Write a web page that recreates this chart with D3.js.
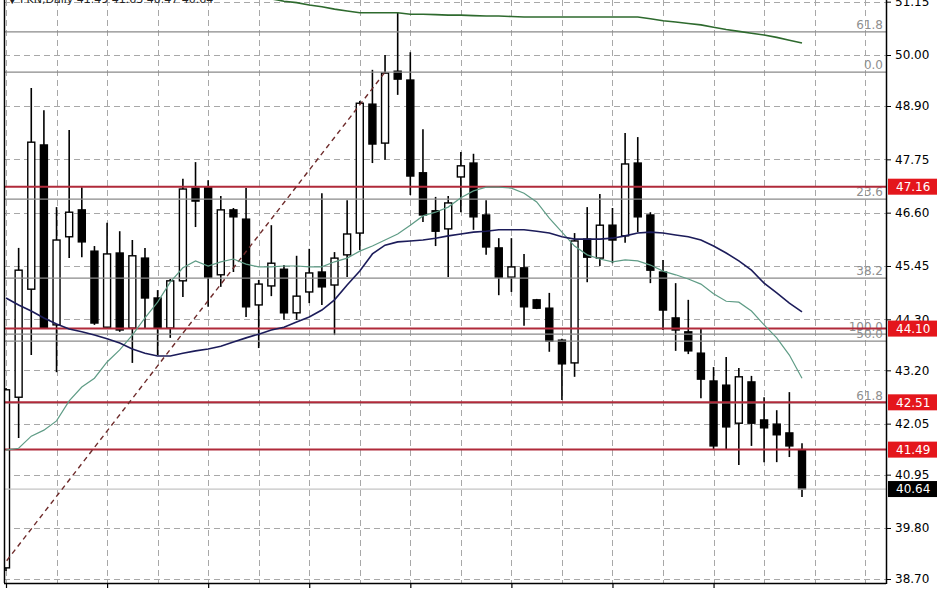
<!DOCTYPE html>
<html><head><meta charset="utf-8">
<script src="https://cdnjs.cloudflare.com/ajax/libs/d3/7.8.5/d3.min.js"></script>
<style>body{margin:0;background:#fff}svg{display:block}</style>
</head><body>
<script>
// ---- data (daily candles) ----
const opens  = [38.94,42.62,44.95,48.06,44.18,46.08,46.66,45.77,44.13,45.73,44.11,45.62,44.76,44.11,45.13,47.13,47.15,45.26,46.66,46.46,44.61,45.02,45.38,44.44,44.89,45.32,45.04,45.69,46.16,48.94,48.10,49.65,49.46,47.46,46.64,46.25,47.37,47.67,46.55,45.84,45.21,45.41,44.72,44.54,43.85,43.36,46.03,45.62,46.33,46.10,47.67,46.55,45.32,44.33,44.03,43.57,42.97,42.88,42.06,42.95,42.13,42.04,41.85,41.49];
const highs  = [42.82,45.84,49.29,48.81,46.72,48.38,47.15,45.88,46.38,46.20,46.01,45.84,44.93,45.17,47.33,47.69,47.30,46.96,46.70,47.13,45.15,46.33,45.47,45.67,45.82,47.02,45.75,46.87,49.01,49.68,50.00,50.91,50.06,48.40,46.94,46.96,47.91,47.87,46.87,46.05,46.05,45.71,44.74,44.87,43.88,46.16,46.72,47.00,46.70,48.32,48.23,46.61,45.58,45.08,44.72,44.09,43.27,43.49,43.25,43.08,42.62,42.34,42.73,41.63];
const lows   = [38.87,41.74,43.53,44.09,43.16,45.62,45.64,44.18,44.11,44.03,43.36,44.11,43.53,43.90,44.78,46.29,44.57,45.00,45.32,44.35,43.68,44.80,44.29,44.29,44.65,44.61,43.96,45.21,45.79,47.67,47.74,49.14,46.98,46.40,45.88,45.21,46.61,46.23,45.69,44.82,44.89,44.16,44.52,43.60,42.56,43.06,45.10,45.45,45.51,45.95,46.18,45.08,44.07,43.62,43.55,42.60,41.48,41.48,41.16,41.57,41.22,41.22,41.33,40.47];
const closes = [42.78,45.36,48.12,44.11,46.01,46.61,45.97,44.22,45.71,44.07,45.67,44.76,44.11,45.13,47.11,46.85,45.21,46.66,46.51,44.57,45.06,45.51,44.44,44.80,45.30,45.00,45.62,46.14,48.96,48.08,49.61,49.48,47.39,46.55,46.20,46.81,47.61,46.51,45.86,45.21,45.43,44.57,44.54,43.83,43.34,45.99,45.64,46.33,46.01,47.65,46.51,45.36,44.50,44.07,43.62,43.01,41.57,41.98,43.06,42.06,41.96,41.81,41.57,40.64];

// moving averages (per bar)
const maFast = [41.48,41.52,41.78,41.91,42.11,42.54,42.84,43.03,43.38,43.64,43.96,44.33,44.67,45.10,45.41,45.56,45.45,45.54,45.60,45.49,45.43,45.43,45.45,45.45,45.43,45.43,45.54,45.62,45.77,45.88,46.01,46.14,46.33,46.53,46.61,46.72,46.92,47.07,47.15,47.15,47.13,47.02,46.83,46.48,46.18,45.88,45.69,45.60,45.54,45.58,45.56,45.47,45.34,45.26,45.17,45.06,44.85,44.69,44.67,44.48,44.18,43.90,43.53,43.03];
const maMid  = [44.76,44.61,44.48,44.33,44.20,44.09,44.03,43.96,43.88,43.79,43.66,43.57,43.51,43.51,43.57,43.62,43.66,43.72,43.81,43.90,43.98,44.07,44.13,44.24,44.35,44.50,44.72,45.04,45.34,45.71,45.90,45.97,45.99,46.01,46.05,46.10,46.14,46.18,46.20,46.23,46.23,46.23,46.20,46.16,46.08,46.03,46.03,46.03,46.05,46.10,46.16,46.18,46.16,46.12,46.08,46.01,45.88,45.73,45.56,45.36,45.08,44.87,44.65,44.46];
const maSlow = [null,null,null,null,null,null,null,null,null,null,null,null,null,null,null,null,null,null,null,null,null,51.21,51.16,51.13,51.08,51.04,50.99,50.95,50.91,50.91,50.91,50.91,50.88,50.88,50.87,50.86,50.86,50.85,50.84,50.84,50.83,50.82,50.82,50.82,50.82,50.82,50.82,50.82,50.82,50.82,50.82,50.78,50.74,50.71,50.68,50.65,50.60,50.55,50.51,50.47,50.43,50.38,50.32,50.26];

// price axis
const yTickValues = [51.15,50.00,48.90,47.75,46.60,45.45,44.30,43.20,42.05,40.95,39.80,38.70];
const yTickLabels = ["51.15","50.00","48.90","47.75","46.60","45.45","44.30","43.20","42.05","40.95","39.80","38.70"];

// horizontal objects
const redLevels = [47.16,44.10,42.51,41.49];
const redLabels = ["47.16","44.10","42.51","41.49"];
const fibValues = [50.50,49.63,46.89,45.19,43.98,43.83,42.50];
const fibLabels = ["61.8","0.0","23.6","38.2","100.0","50.0","61.8"];
const lastPrice = 40.64;
const trendBars = [-3,30];
const trendPrices = [38.02,49.63];
const header = "▼ PKN,Daily  41.49 41.63 40.47 40.64";

// ---- drawing ----
const W=948,H=593, L=4, R=886, T=0, B=583;
const svg=d3.select("body").append("svg").attr("width",W).attr("height",H)
  .style("font-family","'DejaVu Sans',Verdana,sans-serif");
svg.append("rect").attr("width",W).attr("height",H).attr("fill","#fff");
svg.append("defs").append("clipPath").attr("id","plot")
  .append("rect").attr("x",L).attr("y",T).attr("width",R-L).attr("height",B-T);

const x=d3.scaleLinear().domain([0,63]).range([6,802]);
const y=d3.scaleLinear().domain([38.70,50.00]).range([579,55]);

const plot=svg.append("g").attr("clip-path","url(#plot)");

// grid
plot.append("g").selectAll("line").data(yTickValues).join("line")
  .attr("x1",L).attr("x2",R).attr("y1",d=>Math.round(y(d))+0.5).attr("y2",d=>Math.round(y(d))+0.5)
  .attr("stroke","#a8a8a8").attr("stroke-width",1).attr("stroke-dasharray","6,4");
plot.append("g").selectAll("line").data(d3.range(0,69,4)).join("line")
  .attr("x1",d=>Math.round(x(d))+0.5).attr("x2",d=>Math.round(x(d))+0.5).attr("y1",T).attr("y2",B)
  .attr("stroke","#a8a8a8").attr("stroke-width",1).attr("stroke-dasharray","6,4");

// candles
const idx=d3.range(opens.length);
const cg=plot.append("g");
cg.selectAll("line").data(idx).join("line")
  .attr("x1",i=>x(i)).attr("x2",i=>x(i)).attr("y1",i=>y(highs[i])).attr("y2",i=>y(lows[i]))
  .attr("stroke","#000").attr("stroke-width",1.6);
cg.selectAll("rect").data(idx).join("rect")
  .attr("x",i=>x(i)-3.5).attr("width",7)
  .attr("y",i=>y(Math.max(opens[i],closes[i])))
  .attr("height",i=>Math.max(1,Math.abs(y(opens[i])-y(closes[i]))))
  .attr("fill",i=>closes[i]>=opens[i]?"#fff":"#000")
  .attr("stroke","#000").attr("stroke-width",1.4);

// fib lines
plot.append("g").selectAll("line").data(fibValues).join("line")
  .attr("x1",L).attr("x2",R).attr("y1",d=>y(d)).attr("y2",d=>y(d))
  .attr("stroke","#8a8a8a").attr("stroke-width",1.3);
plot.append("g").selectAll("text").data(fibValues).join("text")
  .attr("x",883).attr("y",d=>y(d)-3).attr("text-anchor","end")
  .attr("font-size",12).attr("fill","#8f8f8f").text((d,i)=>fibLabels[i]);

// last price line
plot.append("line").attr("x1",L).attr("x2",R).attr("y1",y(lastPrice)).attr("y2",y(lastPrice))
  .attr("stroke","#c4c4c4").attr("stroke-width",1.2);

// red levels
plot.append("g").selectAll("line").data(redLevels).join("line")
  .attr("x1",L).attr("x2",R).attr("y1",d=>y(d)).attr("y2",d=>y(d))
  .attr("stroke","#b02a3a").attr("stroke-width",2);

// fib trend line
plot.append("line")
  .attr("x1",x(trendBars[0])).attr("y1",y(trendPrices[0]))
  .attr("x2",x(trendBars[1])).attr("y2",y(trendPrices[1]))
  .attr("stroke","#6e2b2b").attr("stroke-width",1.4).attr("stroke-dasharray","5,4");

// moving averages
const line=d3.line().defined(d=>d!=null).x((d,i)=>x(i)).y(d=>y(d));
plot.append("path").datum(maFast).attr("d",line).attr("fill","none").attr("stroke","#5f9c86").attr("stroke-width",1.2);
plot.append("path").datum(maMid).attr("d",line).attr("fill","none").attr("stroke","#1c1c5a").attr("stroke-width",1.6);
plot.append("path").datum(maSlow).attr("d",line).attr("fill","none").attr("stroke","#2e6a2e").attr("stroke-width",1.6);

// header (mostly cut off at the top edge, as in the reference)
plot.append("text").attr("x",8).attr("y",3).attr("font-size",11).attr("fill","#222").text(header);

// frame
svg.append("line").attr("x1",L+0.5).attr("x2",L+0.5).attr("y1",T).attr("y2",B).attr("stroke","#000").attr("stroke-width",1.5);
svg.append("line").attr("x1",L).attr("x2",R).attr("y1",B+0.5).attr("y2",B+0.5).attr("stroke","#000").attr("stroke-width",1.5);

// right axis
const ya=svg.append("g").attr("transform",`translate(${R},0)`)
  .call(d3.axisRight(y).tickValues(yTickValues).tickFormat((d,i)=>yTickLabels[i]).tickSize(5).tickPadding(4));
ya.select(".domain").remove();
ya.selectAll("text").attr("font-size",12).attr("fill","#000").style("font-family","'DejaVu Sans',Verdana,sans-serif");
ya.selectAll("line").attr("stroke","#000");
svg.append("line").attr("x1",R+0.5).attr("x2",R+0.5).attr("y1",T).attr("y2",B+1).attr("stroke","#000").attr("stroke-width",1.5);

// bottom axis ticks
const xa=svg.append("g").attr("transform",`translate(0,${B})`)
  .call(d3.axisBottom(x).tickValues(d3.range(0,64,8)).tickFormat("").tickSize(5));
xa.select(".domain").remove();
xa.selectAll("line").attr("stroke","#000").attr("stroke-width",1.2);

// price boxes
const bx=svg.append("g");
bx.selectAll("rect").data(redLevels).join("rect")
  .attr("x",888).attr("width",49).attr("y",d=>y(d)-8).attr("height",16).attr("fill","#e4161c");
bx.selectAll("text").data(redLevels).join("text")
  .attr("x",896).attr("y",d=>y(d)).attr("dy","0.35em").attr("font-size",12).attr("fill","#fff")
  .text((d,i)=>redLabels[i]);
bx.append("rect").attr("x",888).attr("width",49).attr("y",y(lastPrice)-8).attr("height",16).attr("fill","#000");
bx.append("text").attr("x",896).attr("y",y(lastPrice)).attr("dy","0.35em").attr("font-size",12).attr("fill","#fff").text(lastPrice.toFixed(2));
</script>
</body></html>
